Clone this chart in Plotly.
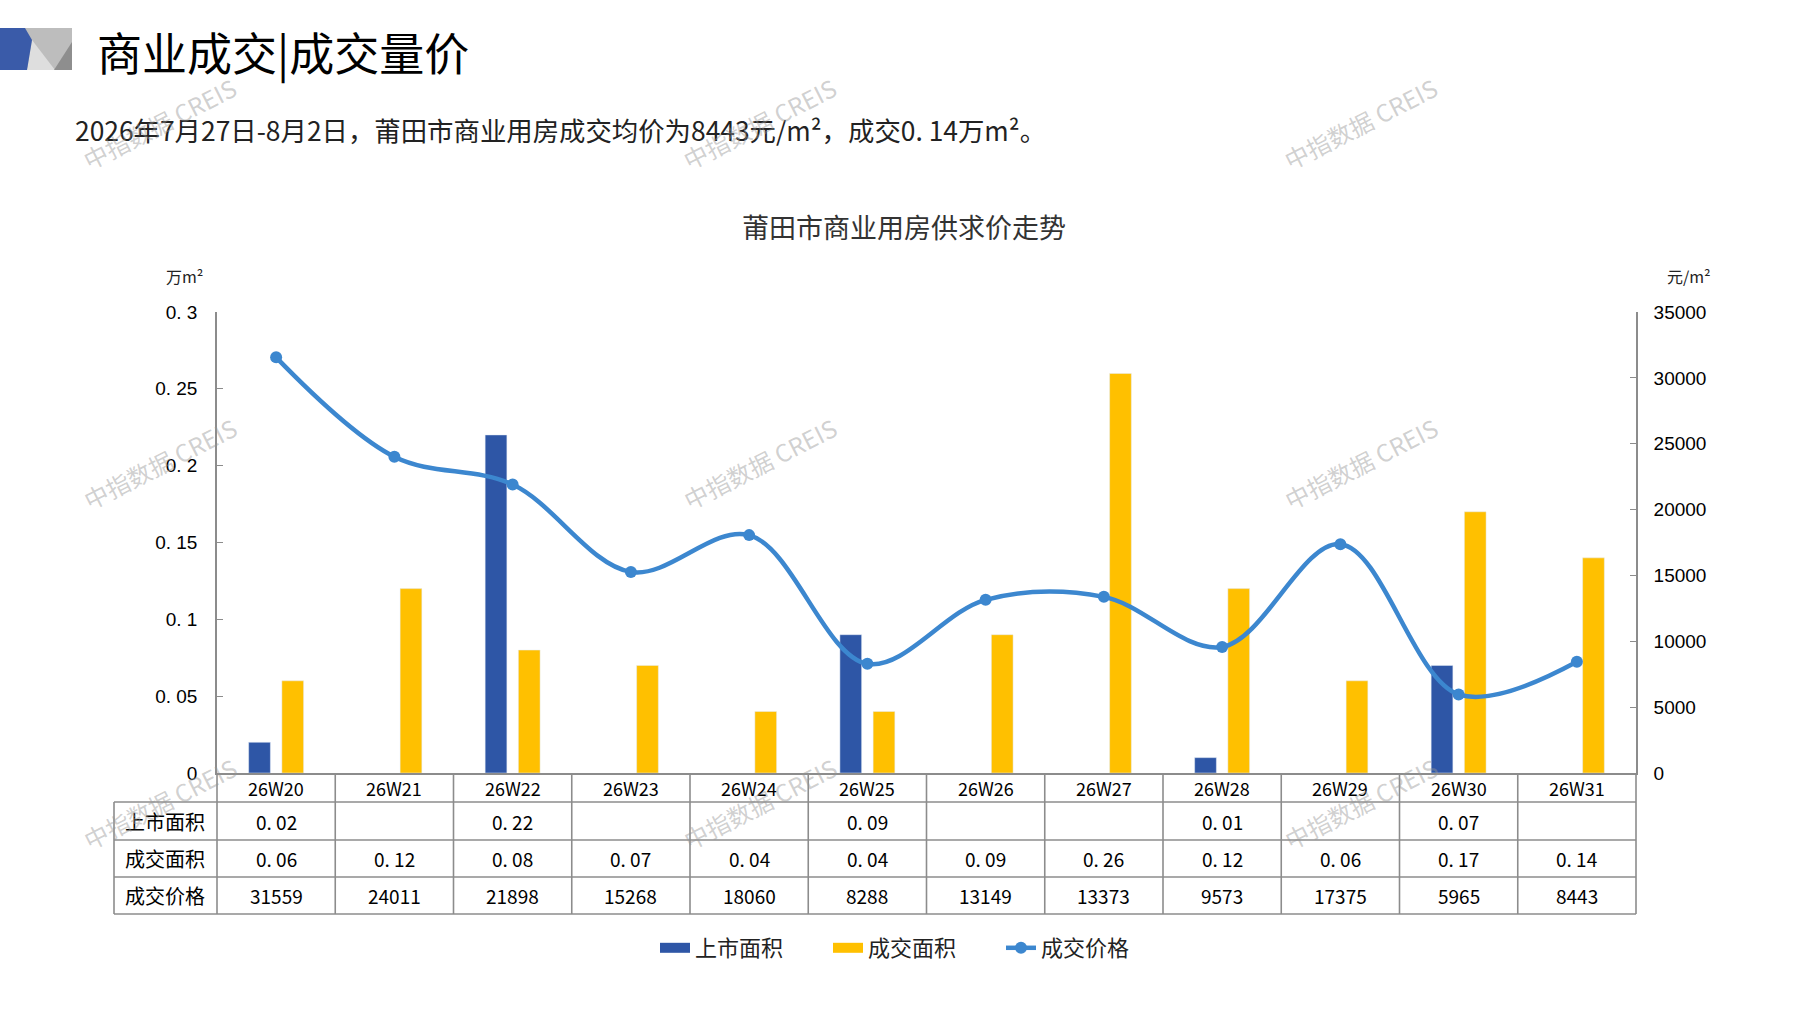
import plotly.graph_objects as go

# ---- data ----
weeks = ["26W20", "26W21", "26W22", "26W23", "26W24", "26W25",
         "26W26", "26W27", "26W28", "26W29", "26W30", "26W31"]
supply_area = [0.02, None, 0.22, None, None, 0.09, None, None, 0.01, None, 0.07, None]
deal_area = [0.06, 0.12, 0.08, 0.07, 0.04, 0.04, 0.09, 0.26, 0.12, 0.06, 0.17, 0.14]
deal_price = [31559, 24011, 21898, 15268, 18060, 8288, 13149, 13373, 9573, 17375, 5965, 8443]
row_names = ["上市面积", "成交面积", "成交价格"]
left_ticks = [0, 0.05, 0.1, 0.15, 0.2, 0.25, 0.3]
right_ticks = [0, 5000, 10000, 15000, 20000, 25000, 30000, 35000]

BLUE = "#2E56A6"
YELLOW = "#FFC000"
LINE = "#3C87CF"
GRID = "#8C8C8C"
CJK = "Noto Sans CJK SC"

# page / plot box in pixels
W, H = 1797, 1010
L, R, T, B = 217, 1636, 312, 773


def fx(p):
    return (p - L) / (R - L)


def fy(p):
    return (B - p) / (B - T)


def dec(v):
    # the source font renders the decimal point wide: "0. 05"
    s = f"{v:g}" if v in left_ticks else f"{v:.2f}"
    return s.replace(".", ". ")


fig = go.Figure()

fig.add_trace(go.Bar(x=weeks, y=supply_area, name="上市面积", marker_color=BLUE,
                     showlegend=False))
fig.add_trace(go.Bar(x=weeks, y=deal_area, name="成交面积", marker_color=YELLOW,
                     showlegend=False))

# legend stand-ins so the swatches are wide bars like the original
fig.add_trace(go.Scatter(x=[None], y=[None], mode="lines", name="上市面积",
                         line=dict(color=BLUE, width=13)))
fig.add_trace(go.Scatter(x=[None], y=[None], mode="lines", name="成交面积",
                         line=dict(color=YELLOW, width=13)))

fig.add_trace(go.Scatter(x=weeks, y=deal_price, name="成交价格", yaxis="y2",
                         mode="lines+markers",
                         line=dict(color=LINE, width=4.5, shape="spline", smoothing=1),
                         marker=dict(color=LINE, size=12)))

# ---- table under the plot ----
rows_px = [773, 802, 840, 877, 914]
shapes = []
n = len(weeks)
for yp in rows_px[1:]:
    shapes.append(dict(type="line", xref="paper", yref="paper",
                       x0=fx(114), x1=1, y0=fy(yp), y1=fy(yp),
                       line=dict(color=GRID, width=1.6)))
shapes.append(dict(type="line", xref="paper", yref="paper",
                   x0=fx(114), x1=fx(114), y0=fy(rows_px[1]), y1=fy(rows_px[-1]),
                   line=dict(color=GRID, width=1.6)))
for k in range(n + 1):
    shapes.append(dict(type="line", xref="paper", yref="paper",
                       x0=k / n, x1=k / n, y0=fy(rows_px[0]), y1=fy(rows_px[-1]),
                       line=dict(color=GRID, width=1.6)))

# header logo
logo = [
    ("M {} {} L {} {} L {} {} L {} {} Z", [(25, 28), (72, 28), (72, 70), (25, 70)], "#BDBDBD"),
    ("M {} {} L {} {} L {} {} Z", [(32, 40), (55, 70), (27, 70)], "#DEDEDE"),
    ("M {} {} L {} {} L {} {} Z", [(72, 42), (72, 70), (54, 70)], "#8E8E8E"),
    ("M {} {} L {} {} L {} {} L {} {} L {} {} Z",
     [(0, 28), (25, 28), (32, 40), (27, 70), (0, 70)], "#3A5BA9"),
]
for tmpl, pts, col in logo:
    coords = []
    for a, b in pts:
        coords += [round(fx(a), 5), round(fy(b), 5)]
    shapes.append(dict(type="path", xref="paper", yref="paper",
                       path=tmpl.format(*coords), fillcolor=col, line=dict(width=0),
                       layer="above"))

ann = []


def text(x, y, s, size, color="#000", xref="paper", xanchor="center", font=CJK, **kw):
    ann.append(dict(x=x, y=y, xref=xref, yref="paper", text=s, showarrow=False,
                    xanchor=xanchor, yanchor="middle",
                    font=dict(family=font, size=size, color=color), **kw))


for i, w in enumerate(weeks):
    text(i, fy(787.5), w, 18, xref="x")
row_cy = [(rows_px[j] + rows_px[j + 1]) / 2 for j in range(1, 4)]
for j, name in enumerate(row_names):
    text(fx(165), fy(row_cy[j]), name, 20)
for i in range(n):
    if supply_area[i] is not None:
        text(i, fy(row_cy[0]), dec(supply_area[i]), 19, xref="x")
    text(i, fy(row_cy[1]), dec(deal_area[i]), 19, xref="x")
    text(i, fy(row_cy[2]), f"{deal_price[i]}", 19, xref="x")

# titles and units
text(fx(95), fy(51), "商业成交|成交量价", 45, xanchor="left")
text(fx(73), fy(130),
     f"2026年7月27日-8月2日，莆田市商业用房成交均价为{deal_price[-1]}元/m²，成交{dec(deal_area[-1])}万m²。",
     26.4, color="#222", xanchor="left")
text(fx(904), fy(227), "莆田市商业用房供求价走势", 27, color="#333")
text(fx(184), fy(276), "万m²", 16, color="#222")
text(fx(1689), fy(276), "元/m²", 16, color="#222")

# watermarks
for wy in (124, 463, 803):
    for wx in (159, 759, 1360):
        text(fx(wx), fy(wy), "中指数据 CREIS", 24, color="rgba(150,150,150,0.45)",
             textangle=-27)

fig.update_layout(
    width=W, height=H,
    margin=dict(l=L, r=W - R, t=T, b=H - B, pad=0),
    paper_bgcolor="white", plot_bgcolor="white",
    barmode="group", bargap=0.438, bargroupgap=0.346,
    font=dict(family=CJK, size=18, color="#000"),
    xaxis=dict(range=[-0.5, n - 0.5], showticklabels=False, ticks="",
               showgrid=False, showline=True, linecolor=GRID, linewidth=1.6,
               zeroline=False),
    yaxis=dict(range=[0, 0.3], tickvals=left_ticks,
               ticktext=[dec(v) if v else "0" for v in left_ticks],
               showgrid=False, zeroline=False, showline=True, linecolor=GRID,
               linewidth=1.6, ticks="inside", ticklen=6, tickcolor=GRID,
               ticklabelstandoff=14,
               tickfont=dict(family="Liberation Sans", size=19, color="#000")),
    yaxis2=dict(range=[0, 35000], tickvals=right_ticks,
                ticktext=[str(v) for v in right_ticks],
                overlaying="y", side="right",
                showgrid=False, zeroline=False, showline=True, linecolor=GRID,
                linewidth=1.6, ticks="inside", ticklen=6, tickcolor=GRID,
                ticklabelstandoff=12,
                tickfont=dict(family="Liberation Sans", size=19, color="#000")),
    legend=dict(orientation="h", x=fx(655), xanchor="left", y=fy(948), yanchor="middle",
                font=dict(family=CJK, size=22, color="#222"), bgcolor="rgba(0,0,0,0)",
                traceorder="normal", entrywidth=128, entrywidthmode="pixels"),
    shapes=shapes,
    annotations=ann,
)

fig.write_html("out.html", config={"displayModeBar": False},
               post_script="document.body.style.margin='0';document.body.style.overflow='hidden';")
